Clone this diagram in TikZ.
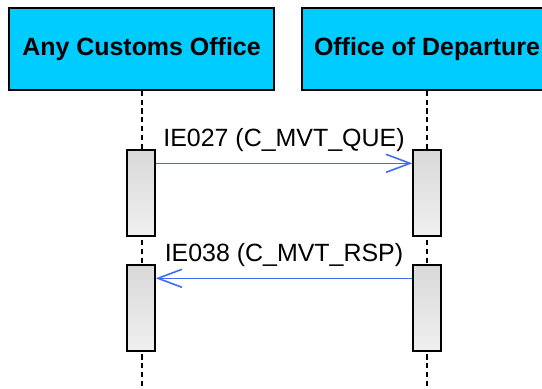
\documentclass[tikz,border=0pt]{standalone}
\usepackage{fontspec}
\setmainfont{Liberation Sans}
\usetikzlibrary{positioning, arrows.meta}
\definecolor{headcyan}{HTML}{00CCFF}
\definecolor{msgblue}{HTML}{3D6BF5}

\begin{document}
\begin{tikzpicture}[
  x=0.02cm, y=-0.02cm,
  party/.style   = {rectangle, draw, line width=1pt, fill=headcyan,
                    minimum height=1.64cm, inner sep=0pt,
                    font=\fontsize{14.2}{17}\selectfont\bfseries},
  activ/.style   = {rectangle, draw, line width=0.8pt,
                    top color=gray!30, bottom color=gray!12,
                    minimum width=0.56cm, minimum height=1.72cm, inner sep=0pt},
  life/.style    = {dashed, line width=0.6pt, dash pattern=on 3pt off 2pt},
  msg/.style     = {draw=msgblue, line width=0.9pt,
                    -{Straight Barb[length=0.48cm, width=0.36cm, line width=0.9pt]}},
  msglabel/.style = {font=\fontsize{14.2}{17}\selectfont, inner sep=0pt, anchor=base}
]
\useasboundingbox (0,0) rectangle (542,389);
\clip (0,0) rectangle (542,389);
% Parties
\node[party, minimum width=5.3cm] (any) at (141.5,49) {Any Customs Office};
\node[party, minimum width=5cm]   (dep) at (427,49)   {Office of Departure};
% Lifelines
\coordinate (anyend) at (142,389);
\coordinate (depend) at (427,389);
\draw[life] (any.south -| anyend) -- (anyend);
\draw[life] (dep.south -| depend) -- (depend);
% Activations
\node[activ] (aq) at (141,193) {};
\node[activ] (dq) at (427,193) {};
\node[activ] (ar) at (141,308) {};
\node[activ] (dr) at (427,308) {};
% Messages
\draw[msg] ([yshift=-0.28cm]aq.north east) -- ([yshift=-0.28cm]dq.north west);
\draw[msg] ([yshift=-0.28cm]dr.north west) -- ([yshift=-0.28cm]ar.north east);
% Message labels
\node[msglabel] (lq) at (284,146) {IE027 (C\_MVT\_QUE)};
\node[msglabel] (lr) at (284,261) {IE038 (C\_MVT\_RSP)};
\end{tikzpicture}
\end{document}
